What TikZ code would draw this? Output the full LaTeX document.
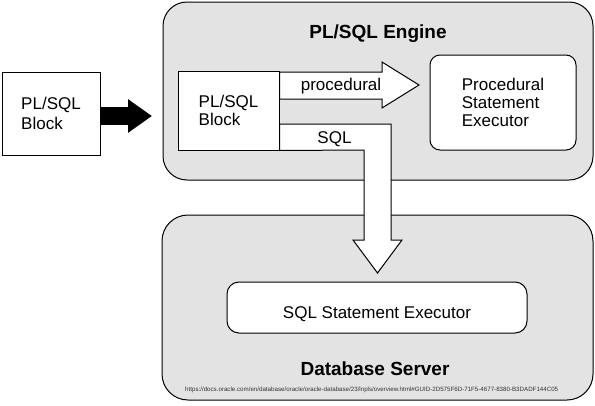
\documentclass[tikz,border=0pt]{standalone}
\usepackage{fontspec}
\usepackage{graphicx}
\setmainfont{Liberation Sans}
\usetikzlibrary{arrows.meta,calc}
\begin{document}
\begin{tikzpicture}[x=1pt,y=-1pt,
  every node/.style={font=\fontsize{17}{18}\selectfont, text=black},
  panel/.style={draw, line width=1pt, fill=gray!22, rounded corners=24pt, inner sep=0pt},
  box/.style={draw, line width=1pt, fill=white, inner sep=0pt, align=left},
  titletext/.style={font=\fontsize{19}{22}\selectfont\bfseries, inner sep=0pt},
  hollowarrow/.style={draw, line width=1pt, fill=white, line join=miter}]
\fill[white] (0,0) rectangle (595,405);
\useasboundingbox (0,0) rectangle (595,405);
% panels
\node[panel, minimum width=430pt, minimum height=178pt] (engine) at (378,91) {};
\node[panel, rounded corners=26pt, minimum width=431pt, minimum height=185pt] (dbs) at (377.5,307.5) {};
\node[titletext, anchor=base] (engtitle) at (378,38) {PL/SQL Engine};
\node[titletext, anchor=base] (dbtitle) at (375,375) {Database Server};
% boxes
\node[box, minimum width=98pt, minimum height=83pt, font=\fontsize{17}{20}\selectfont] (plsql) at (51,113.5) {PL/SQL\\Block};
\node[box, minimum width=101pt, minimum height=79pt] (blk) at (228.5,110.5) {PL/SQL\\Block};
\node[box, rounded corners=10pt, minimum width=146pt, minimum height=95pt] (procex) at (503,102.5) {Procedural\\Statement\\Executor};
\node[box, rounded corners=12pt, minimum width=300pt, minimum height=51pt] (sqlex) at (377,307.5) {};
\node[anchor=base, inner sep=0pt] (sqlexlabel) at (sqlex.center |- 0,318) {SQL Statement Executor};
% black arrow
\coordinate (blacktip) at (152,116);
\draw[line width=18pt, -{Triangle[length=24pt,width=32pt]}] (plsql.east |- blacktip) -- (blacktip);
% procedural arrow
\draw[hollowarrow] (blk.east |- 0,72) -- (382,72) -- (382,62) -- (419,85) -- (382,108) -- (382,99) -- (blk.east |- 0,99) -- cycle;
\node[anchor=base, inner sep=0pt] (proclabel) at (341,90) {procedural};
% SQL arrow
\draw[hollowarrow] (blk.east |- 0,124) -- (391,124) -- (391,240) -- (402,240) -- (377.5,273) -- (353,240) -- (364,240) -- (364,150) -- (blk.south east) -- cycle;
\node[anchor=base, inner sep=0pt] (sqllabel) at (334.5,143) {SQL};
% source URL
\node[anchor=base west, inner sep=0pt, text=black!80] (url) at (185,391.5) {\resizebox{373pt}{!}{\fontsize{6}{7}\selectfont https://docs.oracle.com/en/database/oracle/oracle-database/23/lnpls/overview.html\#GUID-2D575F6D-71F5-4677-8380-B3DADF144C05}};
\end{tikzpicture}
\end{document}
